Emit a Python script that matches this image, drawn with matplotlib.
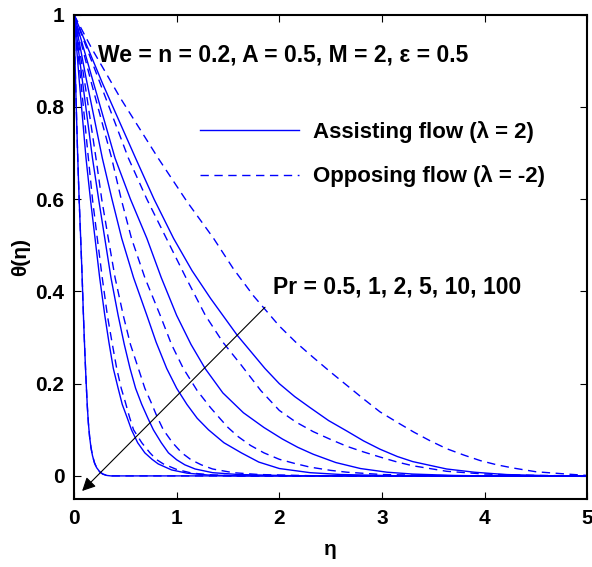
import matplotlib
matplotlib.use('Agg')
import matplotlib.pyplot as plt
from matplotlib.ticker import FormatStrFormatter

plt.rcParams['font.family'] = ['Liberation Sans', 'DejaVu Sans']

# values (eta, theta)
x_pr100 = [0, 0.01, 0.022, 0.035, 0.05, 0.065, 0.078, 0.09, 0.1, 0.11, 0.12, 0.13, 0.14, 0.152, 0.165,
           0.18, 0.2, 0.22, 0.25, 0.28, 0.32, 0.36, 5]
y_pr100 = [1, 0.9, 0.8, 0.7, 0.6, 0.515, 0.44, 0.36, 0.3, 0.245, 0.195, 0.15, 0.115, 0.085, 0.062,
           0.044, 0.028, 0.018, 0.009, 0.004, 0.001, 0, 0]

x_s10 = [0, 0.05, 0.117, 0.16, 0.205, 0.25, 0.30, 0.34, 0.383, 0.43, 0.47, 0.52, 0.56, 0.62, 0.69,
         0.76, 0.82, 0.95, 1.1, 1.3, 1.6, 5]
y_s10 = [1, 0.86, 0.689, 0.6, 0.515, 0.43, 0.348, 0.29, 0.233, 0.19, 0.155, 0.125, 0.10, 0.072, 0.05,
         0.036, 0.026, 0.013, 0.006, 0.002, 0, 0]
x_d10 = [0, 0.065, 0.14, 0.18, 0.227, 0.275, 0.325, 0.37, 0.416, 0.46, 0.50, 0.54, 0.58, 0.66, 0.74,
         0.8, 0.87, 1.0, 1.15, 1.35, 1.6, 5]
y_d10 = [1, 0.86, 0.689, 0.6, 0.515, 0.43, 0.348, 0.29, 0.233, 0.19, 0.16, 0.128, 0.10, 0.072, 0.05,
         0.036, 0.026, 0.014, 0.006, 0.002, 0, 0]

x_s5 = [0, 0.08, 0.18, 0.24, 0.30, 0.36, 0.43, 0.49, 0.546, 0.60, 0.66, 0.72, 0.773, 0.85, 0.92,
        1.0, 1.08, 1.18, 1.35, 1.6, 2.2, 5]
y_s5 = [1, 0.86, 0.689, 0.6, 0.515, 0.43, 0.348, 0.285, 0.233, 0.19, 0.155, 0.125, 0.10, 0.072, 0.05,
        0.035, 0.024, 0.015, 0.007, 0.003, 0, 0]
x_d5 = [0, 0.1, 0.214, 0.27, 0.334, 0.40, 0.48, 0.55, 0.627, 0.69, 0.75, 0.81, 0.87, 0.96, 1.05,
        1.14, 1.24, 1.35, 1.55, 1.8, 2.4, 5]
y_d5 = [1, 0.86, 0.689, 0.6, 0.515, 0.43, 0.348, 0.285, 0.233, 0.19, 0.16, 0.128, 0.10, 0.072, 0.05,
        0.035, 0.024, 0.015, 0.007, 0.003, 0, 0]

x_s2 = [0, 0.12, 0.276, 0.37, 0.465, 0.58, 0.71, 0.80, 0.903, 1.0, 1.1, 1.2, 1.31, 1.46, 1.63,
        1.8, 2.0, 2.3, 2.6, 3.2, 5]
y_s2 = [1, 0.86, 0.689, 0.6, 0.515, 0.43, 0.348, 0.29, 0.233, 0.19, 0.155, 0.125, 0.10, 0.072, 0.05,
        0.03, 0.016, 0.007, 0.003, 0, 0]
x_d2 = [0, 0.16, 0.367, 0.46, 0.56, 0.69, 0.84, 0.95, 1.065, 1.2, 1.33, 1.42, 1.5, 1.6, 1.72,
        1.85, 2.0, 2.15, 2.3, 2.5, 2.66, 3.0, 3.5, 3.8, 5]
y_d2 = [1, 0.86, 0.689, 0.6, 0.515, 0.43, 0.348, 0.285, 0.233, 0.185, 0.148, 0.125, 0.105, 0.085, 0.066,
        0.05, 0.036, 0.027, 0.019, 0.012, 0.008, 0.003, 0.001, 0, 0]

x_s1 = [0, 0.18, 0.40, 0.55, 0.71, 0.85, 1.0, 1.14, 1.277, 1.45, 1.65, 1.85, 2.03, 2.18, 2.33,
        2.55, 2.79, 3.05, 3.3, 3.7, 4.0, 5]
y_s1 = [1, 0.86, 0.689, 0.6, 0.515, 0.43, 0.348, 0.285, 0.233, 0.18, 0.137, 0.105, 0.08, 0.062, 0.047,
        0.029, 0.016, 0.008, 0.004, 0.001, 0, 0]
x_d1 = [0, 0.24, 0.53, 0.71, 0.90, 1.09, 1.28, 1.45, 1.63, 1.82, 2.0, 2.16, 2.33, 2.5, 2.66,
        2.82, 2.98, 3.15, 3.3, 3.63, 4.0, 4.5, 5]
y_d1 = [1, 0.86, 0.689, 0.6, 0.515, 0.43, 0.348, 0.29, 0.24, 0.185, 0.142, 0.117, 0.096, 0.079, 0.064,
        0.052, 0.041, 0.03, 0.022, 0.01, 0.004, 0.001, 0]

x_s05 = [0, 0.28, 0.60, 0.78, 0.97, 1.15, 1.33, 1.59, 1.86, 2.0, 2.15, 2.3, 2.48, 2.66, 2.82,
         2.98, 3.15, 3.3, 3.63, 3.9, 4.2, 4.7, 5]
y_s05 = [1, 0.85, 0.689, 0.6, 0.515, 0.445, 0.385, 0.305, 0.233, 0.2, 0.172, 0.148, 0.12, 0.097, 0.076,
         0.058, 0.042, 0.031, 0.015, 0.008, 0.003, 0, 0]
x_d05 = [0, 0.17, 0.45, 0.82, 1.1, 1.36, 1.55, 1.75, 2.0, 2.16, 2.33, 2.5, 2.66, 2.82, 2.98, 3.15,
         3.31, 3.47, 3.63, 3.8, 3.96, 4.12, 4.28, 4.5, 4.8, 5]
y_d05 = [1, 0.928, 0.82, 0.689, 0.595, 0.515, 0.45, 0.39, 0.325, 0.29, 0.257, 0.225, 0.196, 0.167, 0.139, 0.116,
         0.095, 0.076, 0.059, 0.045, 0.033, 0.024, 0.017, 0.009, 0.004, 0.001]

solid = [(x_s05, y_s05), (x_s1, y_s1), (x_s2, y_s2), (x_s5, y_s5), (x_s10, y_s10), (x_pr100, y_pr100)]
dashed = [(x_d05, y_d05), (x_d1, y_d1), (x_d2, y_d2), (x_d5, y_d5), (x_d10, y_d10), (x_pr100, y_pr100)]

fig = plt.figure(figsize=(5.92, 5.67), dpi=100)
ax = fig.add_axes([0.125, 0.12, 0.867, 0.854])

blue = (0, 0, 1)
for i, (xs, ys) in enumerate(solid):
    ax.plot(xs, ys, '-', color=blue, lw=1.0, label='Assisting flow (\u03bb = 2)' if i == 0 else None)
for i, (xs, ys) in enumerate(dashed):
    ax.plot(xs, ys, '--', color=blue, lw=1.0, dashes=(6, 4), label='Opposing flow (\u03bb = -2)' if i == 0 else None)

ax.set_xlim(0, 5)
ax.set_ylim(-0.05, 1)
ax.set_xticks([0, 1, 2, 3, 4, 5])
ax.set_yticks([0, 0.2, 0.4, 0.6, 0.8, 1])
ax.yaxis.set_major_formatter(FormatStrFormatter('%g'))
ax.tick_params(direction='in', length=5, top=True, right=True, labelsize=15, pad=7)
for lab in ax.get_xticklabels() + ax.get_yticklabels():
    lab.set_fontweight('bold')
for sp in ax.spines.values():
    sp.set_linewidth(1.5)

ax.set_xlabel('\u03b7', fontsize=15, fontweight='bold', labelpad=9)
ax.set_ylabel('\u03b8(\u03b7)', fontsize=15, fontweight='bold')

ax.text(0.23, 0.912, 'We = n = 0.2, A = 0.5, M = 2, \u03b5 = 0.5', fontsize=16.5, fontweight='bold', va='center')
ax.text(1.94, 0.41, 'Pr = 0.5, 1, 2, 5, 10, 100', fontsize=16.5, fontweight='bold', va='center')
ax.annotate('', xy=(0.06, -0.037), xytext=(1.88, 0.37),
            arrowprops=dict(arrowstyle='-|>', color='black', lw=0.8, mutation_scale=20))

leg = ax.legend(loc='upper left', bbox_to_anchor=(0.2456, 0.78), frameon=False, fontsize=16,
                handlelength=4.45, handletextpad=0.62, labelspacing=1.0, borderpad=0, borderaxespad=0)
for t in leg.get_texts():
    t.set_fontweight('bold')

fig.savefig('out.png', dpi=100)
